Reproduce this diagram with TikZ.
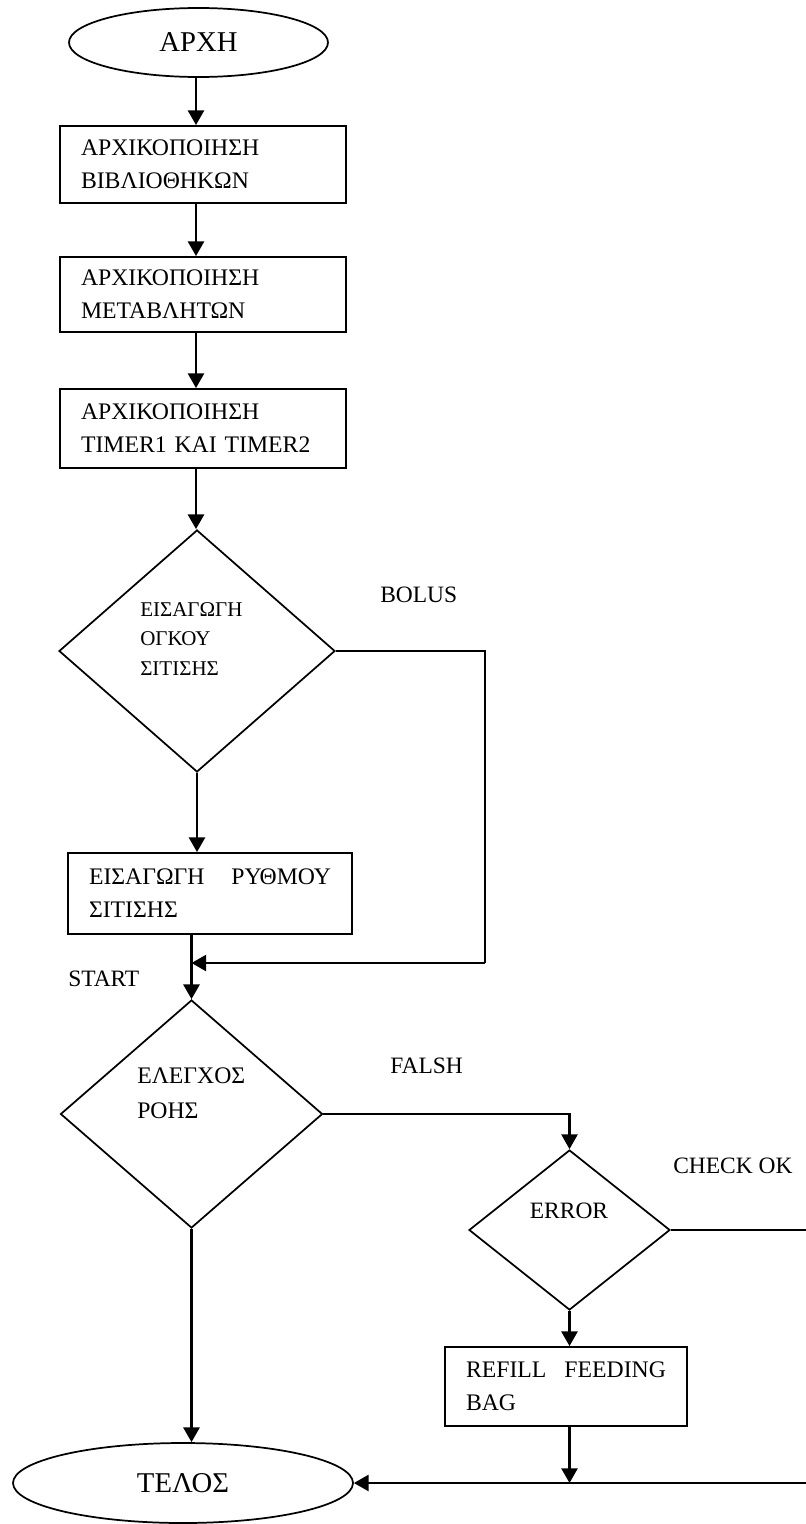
\documentclass[tikz,border=0pt]{standalone}
\usepackage{fontspec}
\setmainfont{Liberation Serif}
\usetikzlibrary{shapes.geometric,arrows.meta}
\begin{document}
\begin{tikzpicture}[x=0.75pt,y=-0.75pt,
  termnode/.style={ellipse,draw,line width=1.3pt,inner sep=0pt,font=\fontsize{21.5}{26}\selectfont},
  procbox/.style={rectangle,draw,line width=1.4pt,inner ysep=0pt,inner xsep=15.75pt,align=left,font=\fontsize{17.8}{24.75}\selectfont},
  decnode/.style={diamond,draw,line width=1.3pt,inner sep=0pt},
  lbl/.style={anchor=base west,inner sep=0pt,font=\fontsize{17.6}{24.75}\selectfont},
  arr/.style={line width=1.9pt,-{Triangle[length=11pt,width=12pt]}},
  conn/.style={line width=1.5pt}]
\useasboundingbox (0,0) rectangle (806,1524);
\fill[white] (0,0) rectangle (806,1524);
\clip (0,0) rectangle (806,1524);

\coordinate (colA) at (196,0);
\coordinate (colB) at (191.5,0);
\coordinate (c1) at (485,963);
\coordinate (farR) at (830,0);

% nodes
\node[termnode,minimum width=194.25pt,minimum height=51.75pt] (start) at (198.5,42.5) {ΑΡΧΗ};
\node[procbox,text width=183pt,minimum height=57.75pt] (b1) at (203,164.5) {ΑΡΧΙΚΟΠΟΙΗΣΗ\\ΒΙΒΛΙΟΘΗΚΩΝ};
\node[procbox,text width=183pt,minimum height=56.25pt] (b2) at (203,294.5) {ΑΡΧΙΚΟΠΟΙΗΣΗ\\ΜΕΤΑΒΛΗΤΩΝ};
\node[procbox,text width=183pt,minimum height=59.25pt] (b3) at (203,428.5) {ΑΡΧΙΚΟΠΟΙΗΣΗ\\TIMER1 ΚΑΙ TIMER2};

\node[decnode,minimum width=207pt,minimum height=181.5pt] (d1) at (197,651) {};
\node[anchor=north west,inner sep=0pt,align=left,font=\fontsize{15.75}{22.1}\selectfont] (t1) at (140,602) {ΕΙΣΑΓΩΓΗ\\ΟΓΚΟΥ\\ΣΙΤΙΣΗΣ};
\node[lbl] (lbolus) at (380,602) {BOLUS};

\node[procbox,text width=181.5pt,minimum height=60.75pt] (b4) at (210,893.5) {ΕΙΣΑΓΩΓΗ\hfill ΡΥΘΜΟΥ\\ΣΙΤΙΣΗΣ};
\node[lbl] (lstart) at (68,986) {START};

\node[decnode,minimum width=196.5pt,minimum height=171pt] (d2) at (191.5,1114) {};
\node[anchor=north west,inner sep=0pt,align=left,font=\fontsize{17.8}{26.25}\selectfont] (t2) at (137,1067.4) {ΕΛΕΓΧΟΣ\\ΡΟΗΣ};
\node[lbl] (lfalsh) at (390,1073) {FALSH};

\node[decnode,minimum width=150.75pt,minimum height=120pt] (d3) at (569.5,1230) {};
\node[anchor=base,inner sep=0pt,font=\fontsize{17.6}{24.75}\selectfont] (t3) at (569,1218) {ERROR};
\node[lbl] (lcheck) at (673,1173) {CHECK OK};

\node[procbox,text width=150pt,minimum height=59.25pt] (b5) at (566,1386.5) {REFILL\hfill FEEDING\\BAG};

\node[termnode,minimum width=255pt,minimum height=60pt] (telos) at (183,1483) {ΤΕΛΟΣ};

% connectors
\draw[arr] (start.south -| colA) -- (b1.north -| colA);
\draw[arr] (b1.south -| colA) -- (b2.north -| colA);
\draw[arr] (b2.south -| colA) -- (b3.north -| colA);
\draw[arr] (b3.south -| colA) -- (d1.north -| colA);
\draw[arr] (d1.south) -- (b4.north -| d1.south);
\draw[conn] (d1.east) -| (c1);
\draw[arr] (c1) -- (c1 -| colB);
\draw[arr] (b4.south -| colB) -- (d2.north);
\draw[arr,line width=1.6pt] (d2.east) -| (d3.north);
\draw[arr] (d2.south) -- (telos.north -| d2.south);
\draw[arr] (d3.south) -- (b5.north -| d3.south);
\draw[arr] (b5.south -| d3.south) -- (telos.east -| d3.south);
\draw[arr,line width=1.6pt] (d3.east) -- (d3.east -| farR) |- (telos.east);
\end{tikzpicture}
\end{document}
